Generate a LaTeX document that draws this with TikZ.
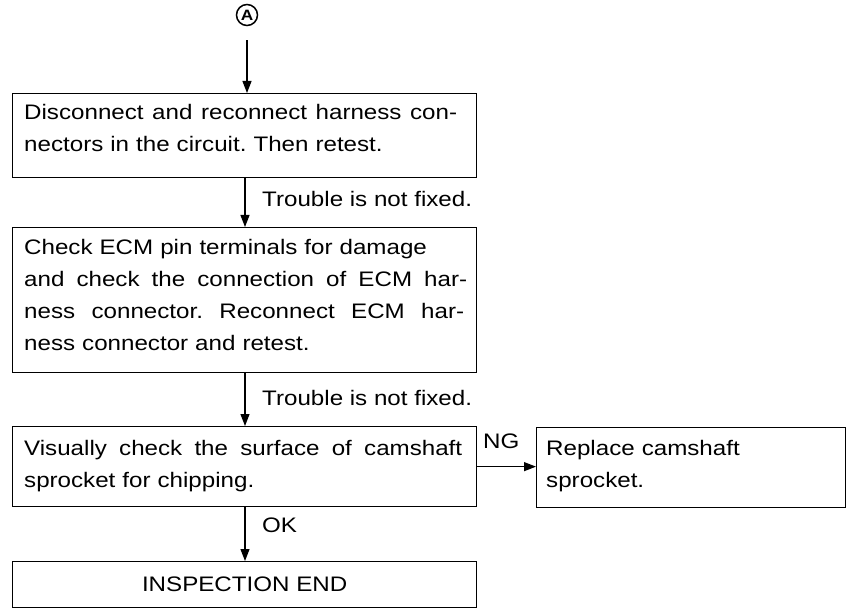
\documentclass[tikz,border=0pt]{standalone}
\usepackage{fontspec}
\setmainfont{Liberation Sans}[FakeStretch=1.15]
\usetikzlibrary{arrows.meta}

% a line set to a fixed width by widening its word spaces
\newcommand{\fullline}[2]{\hbox to #1{\spaceskip=.28em plus 1fil\relax#2}}

\begin{document}
\frenchspacing
\begin{tikzpicture}[x=1pt,y=-1pt,
  box/.style={draw, line width=1.3pt, rectangle, inner sep=0pt, anchor=north west},
  body/.style={font=\fontsize{21}{32}\selectfont\frenchspacing},
  txt/.style={body, anchor=base west, inner sep=0pt, align=left},
  lbl/.style={body, anchor=base west, inner sep=0pt},
  flow/.style={line width=1.2pt, -{Triangle[length=12pt,width=9pt]}}]

\useasboundingbox (0,0) rectangle (848,609);

% entry marker
\node[draw, circle, line width=1.5pt, inner sep=0pt, minimum size=21pt,
      font=\fontsize{15}{15}\selectfont\bfseries] (A) at (247,15) {A};

% step boxes
\node[box, minimum width=464pt, minimum height=84pt]  (b1) at (12,93)  {};
\node[box, minimum width=464pt, minimum height=145pt] (b2) at (12,227) {};
\node[box, minimum width=464pt, minimum height=80pt]  (b3) at (12,426) {};
\node[box, minimum width=309pt, minimum height=80pt]  (b4) at (536,427) {};
\node[box, minimum width=464pt, minimum height=46pt, body] (b5) at (12,561) {INSPECTION END};

% box texts
\node[txt, text width=445pt] (t1) at (24,120)
  {\fullline{433pt}{Disconnect and reconnect harness con-}
   nectors in the circuit. Then retest.};
\node[txt, text width=450pt] (t2) at (24,255)
  {Check ECM pin terminals for damage\\
   \fullline{443pt}{and check the connection of ECM har-}
   \fullline{440pt}{ness connector. Reconnect ECM har-}
   ness connector and retest.};
\node[txt, text width=450pt] (t3) at (24,455)
  {\fullline{438pt}{Visually check the surface of camshaft}
   sprocket for chipping.};
\node[txt, text width=290pt] (t4) at (546,455)
  {Replace camshaft\\
   sprocket.};

% connectors
\coordinate (ax) at (245,0);
\draw[flow, shorten <=14pt] (A.south) -- (b1.north -| A.south);
\draw[flow] (b1.south -| ax) -- (b2.north -| ax);
\draw[flow] (b2.south -| ax) -- (b3.north -| ax);
\draw[flow] (b3.south -| ax) -- (b5.north -| ax);
\draw[flow] (b3.east) -- (b3.east -| b4.west);

% connector labels
\node[lbl] (l1) at (262,207) {Trouble is not fixed.};
\node[lbl] (l2) at (262,405) {Trouble is not fixed.};
\node[lbl] (l3) at (262,532) {OK};
\node[lbl] (l4) at (483,448) {NG};

\end{tikzpicture}
\end{document}
